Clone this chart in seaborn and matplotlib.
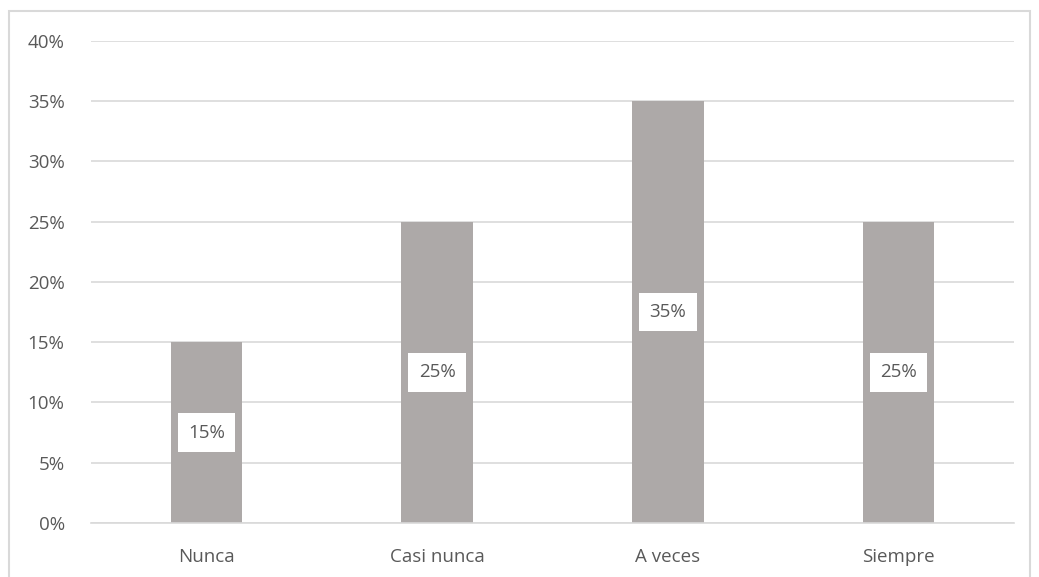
import matplotlib
matplotlib.use("Agg")
import matplotlib.pyplot as plt
import seaborn as sns
import pandas as pd
from matplotlib.patches import Rectangle
from matplotlib.ticker import PercentFormatter

# ==========================================================
#  DATA
# ==========================================================
categorias = ["Nunca", "Casi nunca", "A veces", "Siempre"]
porcentajes = [15, 25, 35, 25]

df = pd.DataFrame({"categoria": categorias, "pct": porcentajes})

BAR_COLOR = "#ADA9A8"
TEXT_COLOR = "#595959"
GRID_COLOR = "#D9D9D9"

sns.set_theme(style="white")
plt.rcParams["font.family"] = ["Open Sans", "DejaVu Sans"]

fig = plt.figure(figsize=(10.39, 5.77), dpi=100)
ax = fig.add_axes([0.0876, 0.0936, 0.8884, 0.8354])

sns.barplot(data=df, x="categoria", y="pct", color=BAR_COLOR,
            width=0.31, saturation=1, linewidth=0, ax=ax, zorder=2)

ax.set_ylim(0, 40)
ax.set_yticks(range(0, 41, 5))
ax.yaxis.set_major_formatter(PercentFormatter(decimals=0))
ax.grid(axis="y", color=GRID_COLOR, linewidth=1.2, zorder=0)
ax.set_axisbelow(True)
ax.set_xlabel("")
ax.set_ylabel("")

for side in ["top", "right", "left"]:
    ax.spines[side].set_visible(False)
ax.spines["bottom"].set_color(GRID_COLOR)
ax.spines["bottom"].set_linewidth(1.2)

ax.tick_params(axis="both", length=0, labelsize=13.5, colors=TEXT_COLOR)
ax.tick_params(axis="y", pad=19)
ax.tick_params(axis="x", pad=18)

# etiquetas de datos con recuadro blanco
ax.bar_label(ax.containers[0], labels=[f"{v}%" for v in porcentajes],
             label_type="center", fontsize=13.5, color=TEXT_COLOR,
             bbox=dict(boxstyle="square,pad=0.55", fc="white", ec="none"))

# borde del grafico
fig.patches.append(Rectangle((9 / 1039, -0.01), 1021 / 1039, 1 - 11 / 577 + 0.01,
                             transform=fig.transFigure, fill=False,
                             edgecolor=GRID_COLOR, linewidth=1.5))

fig.savefig("out.png", dpi=100)
